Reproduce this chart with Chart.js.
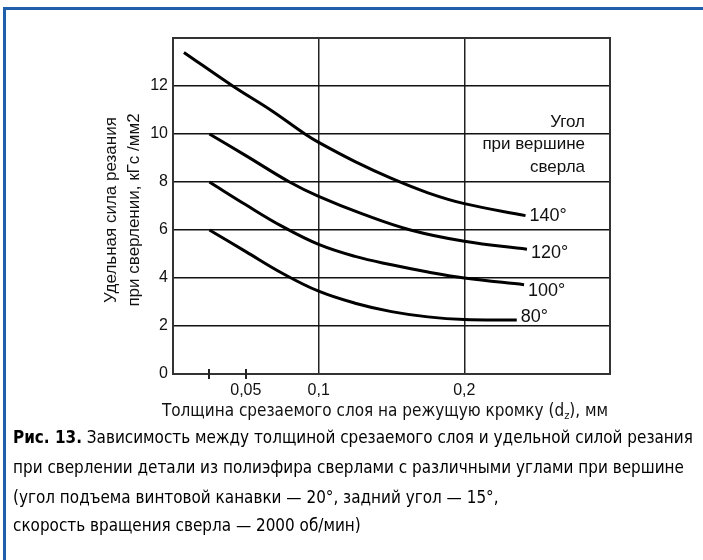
<!DOCTYPE html>
<html>
<head>
<meta charset="utf-8">
<script src="https://cdn.jsdelivr.net/npm/chart.js@4/dist/chart.umd.min.js"></script>
<style>
  html, body { margin: 0; padding: 0; background: #fff; }
  body { width: 703px; height: 560px; position: relative; overflow: hidden; }
  #frame { position: absolute; left: 3px; top: 7px; right: -10px; bottom: -10px;
           border-top: 3px solid #1f5ea8; border-left: 3px solid #1f5ea8; }
  #wrap { position: absolute; left: 0; top: 0; width: 703px; height: 560px; }
  .txt { position: absolute; white-space: nowrap; color: #111;
         font-family: "Liberation Sans Narrow", "DejaVu Sans Condensed", sans-serif; }
  .cap { left: 13px; font-size: 17px; line-height: 24px; color: #000; }
  .xtitle { left: 0; width: 770px; text-align: center; font-size: 17px; line-height: 22px; top: 399px; }
  sub { font-size: 11px; vertical-align: -3px; line-height: 0; }
</style>
</head>
<body>
<div id="frame"></div>
<div id="wrap"><canvas id="c" width="703" height="560"></canvas></div>
<div class="txt xtitle">Толщина срезаемого слоя на режущую кромку (d<sub>z</sub>), мм</div>
<div class="txt cap" id="cap1" style="top:425px"><b>Рис. 13.</b> Зависимость между толщиной срезаемого слоя и удельной силой резания</div>
<div class="txt cap" style="top:455px">при сверлении детали из полиэфира сверлами с различными углами при вершине</div>
<div class="txt cap" style="top:485px">(угол подъема винтовой канавки — 20°, задний угол — 15°,</div>
<div class="txt cap" style="top:513px">скорость вращения сверла — 2000 об/мин)</div>
<script>
// Толщина срезаемого слоя, мм, и удельная сила резания, кГс/мм2, для каждого угла при вершине
const thickness140 = [0.0075, 0.041, 0.067, 0.0906, 0.100, 0.125, 0.150, 0.175, 0.200, 0.242];
const force140     = [13.4,   12.0,  11.0,  10.0,   9.65,  8.85,  8.15,  7.55,  7.1,   6.6];

const thickness120 = [0.025, 0.050, 0.080, 0.100, 0.130, 0.163, 0.200, 0.243];
const force120     = [10.0,  9.1,   8.0,   7.4,   6.67,  6.0,   5.53,  5.2];

const thickness100 = [0.025, 0.050, 0.075, 0.100, 0.125, 0.150, 0.175, 0.200, 0.241];
const force100     = [8.0,   7.05,  6.15,  5.4,   4.9,   4.55,  4.25,  4.0,   3.72];

const thickness80  = [0.025, 0.050, 0.075, 0.100, 0.125, 0.150, 0.175, 0.200, 0.236];
const force80      = [6.0,   5.1,   4.2,   3.45,  2.95,  2.6,   2.38,  2.27,  2.25];

const angleLabels = ['140°', '120°', '100°', '80°'];

const xTickValues = [0.025, 0.05, 0.1, 0.2];
const xTickLabels = ['', '0,05', '0,1', '0,2'];
const xGridValues = [0.1, 0.2];
const xShortMarks = [0.025, 0.05];

const yTickValues = [0, 2, 4, 6, 8, 10, 12, 14];
const yTickLabels = ['0', '2', '4', '6', '8', '10', '12', ''];

const legendTitle = ['Угол', 'при вершине', 'сверла'];
const yTitle = ['Удельная сила резания', 'при сверлении, кГс /мм2'];

const toPoints = (xs, ys) => xs.map((x, i) => ({ x: x, y: ys[i] }));

const series = [
  toPoints(thickness140, force140),
  toPoints(thickness120, force120),
  toPoints(thickness100, force100),
  toPoints(thickness80, force80)
];

const SANS = '"Liberation Sans", Arial, sans-serif';

// подгонка подписи к рисунку по ширине первой строки
(function fitCaption() {
  const first = document.getElementById('cap1');
  const w = first.getBoundingClientRect().width;
  const size = 17 * 680 / w;
  document.querySelectorAll('.cap').forEach(el => { el.style.fontSize = size + 'px'; });
})();

const decorations = {
  id: 'decorations',
  afterDatasetsDraw(chart, args, opts) {
    const { ctx, chartArea: a, scales: { x } } = chart;
    ctx.save();
    // рамка поля графика
    ctx.strokeStyle = '#333';
    ctx.lineWidth = 2;
    ctx.strokeRect(a.left, a.top, a.right - a.left, a.bottom - a.top);
    // короткие засечки на оси абсцисс
    ctx.strokeStyle = '#222';
    ctx.lineWidth = 2;
    xShortMarks.forEach(v => {
      const px = Math.round(x.getPixelForValue(v));
      ctx.beginPath();
      ctx.moveTo(px, a.bottom - 5);
      ctx.lineTo(px, a.bottom + 5);
      ctx.stroke();
    });
    // подписи кривых
    ctx.fillStyle = '#111';
    ctx.font = '18px ' + SANS;
    ctx.textAlign = 'left';
    ctx.textBaseline = 'middle';
    chart.data.datasets.forEach((ds, i) => {
      const meta = chart.getDatasetMeta(i);
      const last = meta.data[meta.data.length - 1];
      ctx.fillText(ds.label, last.x + 4, last.y + opts.labelShift[i]);
    });
    // заголовок подписей
    ctx.font = '17px ' + SANS;
    ctx.textAlign = 'right';
    legendTitle.forEach((line, i) => {
      ctx.fillText(line, opts.headerX, opts.headerY + i * 22.5);
    });
    // название оси ординат
    ctx.font = '17px ' + SANS;
    ctx.textAlign = 'center';
    ctx.translate(opts.yTitleX, (a.top + a.bottom) / 2 + opts.yTitleShift);
    ctx.rotate(-Math.PI / 2);
    yTitle.forEach((line, i) => {
      ctx.fillText(line, 0, i * opts.yTitleGap);
    });
    ctx.restore();
  }
};

new Chart(document.getElementById('c'), {
  type: 'scatter',
  data: {
    datasets: series.map((pts, i) => ({
      label: angleLabels[i],
      data: pts,
      showLine: true,
      borderColor: '#000',
      borderWidth: 3,
      pointRadius: 0,
      tension: 0.4
    }))
  },
  options: {
    responsive: false,
    animation: false,
    events: [],
    layout: { padding: { top: 38, right: 93, bottom: 140, left: 0 } },
    plugins: {
      legend: { display: false },
      tooltip: { enabled: false },
      decorations: {
        labelShift: [0, 4, 6, -3], headerX: 585, headerY: 122,
        yTitleX: 111, yTitleShift: 4, yTitleGap: 23
      }
    },
    scales: {
      x: {
        type: 'linear',
        min: 0,
        max: 0.3,
        afterBuildTicks: s => { s.ticks = xTickValues.map(v => ({ value: v })); },
        afterFit: s => { s.height = 46; },
        ticks: {
          autoSkip: false,
          maxRotation: 0,
          padding: 7,
          color: '#111',
          font: { family: SANS, size: 16 },
          callback: (v, i) => xTickLabels[i]
        },
        grid: {
          drawTicks: false,
          lineWidth: 1.5,
          color: c => (c.tick && xGridValues.includes(c.tick.value)) ? '#222' : 'rgba(0,0,0,0)'
        },
        border: { display: false }
      },
      y: {
        min: 0,
        max: 14,
        afterBuildTicks: s => { s.ticks = yTickValues.map(v => ({ value: v })); },
        afterFit: s => { s.width = 173; },
        ticks: {
          autoSkip: false,
          padding: 5,
          color: '#111',
          font: { family: SANS, size: 16 },
          callback: (v, i) => yTickLabels[i]
        },
        grid: {
          drawTicks: false,
          lineWidth: 1.5,
          color: c => (c.tick && c.tick.value > 0 && c.tick.value < 14) ? '#111' : 'rgba(0,0,0,0)'
        },
        border: { display: false }
      }
    }
  },
  plugins: [decorations]
});
</script>
</body>
</html>
